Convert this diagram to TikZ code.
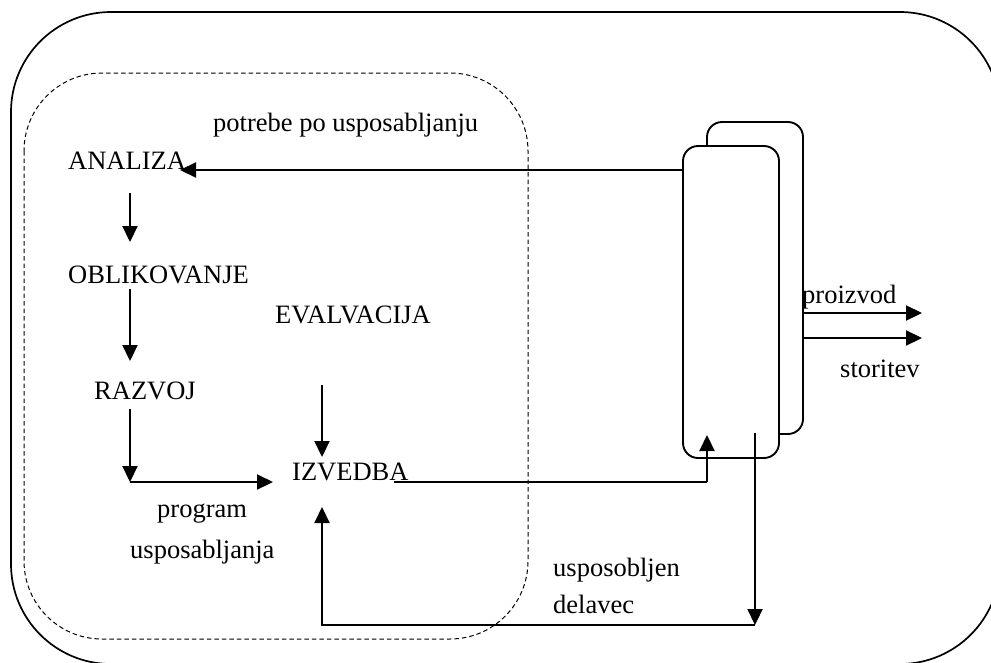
\documentclass[tikz,border=0pt]{standalone}
\usepackage{fontspec}
\setmainfont{Liberation Serif}
\usetikzlibrary{arrows.meta}
\begin{document}
\begin{tikzpicture}[x=1pt,y=-1pt,
  lbl/.style={anchor=base west,inner sep=0pt,font=\fontsize{26.5}{30}\selectfont},
  arr/.style={line width=2.2pt,-{Triangle[length=16pt,width=15pt]}},
  ln/.style={line width=2.2pt},
  proc/.style={draw,line width=1.9pt,rounded corners=15pt,fill=white,minimum width=96pt,minimum height=312pt,inner sep=0pt}]
\useasboundingbox (0,0) rectangle (991,662);
\begin{scope}
\clip (0,0) rectangle (991,662);
\draw[line width=1.7pt,rounded corners=100pt] (11,12) rectangle (1000,664);
\end{scope}
\draw[line width=1pt,dash pattern=on 4.5pt off 3pt,rounded corners=78pt] (24,73) rectangle (528,639);

% labels
\node[lbl] (pot) at (213,131) {potrebe po usposabljanju};
\node[lbl] (ana) at (68,169) {ANALIZA};
\node[lbl] (obl) at (68,283) {OBLIKOVANJE};
\node[lbl] (eva) at (275,323) {EVALVACIJA};
\node[lbl] (raz) at (94,399) {RAZVOJ};
\node[lbl] (izv) at (292,480) {IZVEDBA};
\node[lbl] (prog) at (157,517) {program};
\node[lbl] (usp) at (130,558) {usposabljanja};
\node[lbl] (proi) at (802,303) {proizvod};
\node[lbl] (stor) at (840,377) {storitev};
\node[lbl] (uspo) at (553,576) {usposobljen};
\node[lbl] (dela) at (553,613) {delavec};

% process boxes
\node[proc] (back) at (755,278) {};
\node[proc] (front) at (731,302) {};

% named points
\coordinate (anaIn) at (180,170);
\coordinate (corner) at (130,482);
\coordinate (izvOut) at (394,482);
\coordinate (boxIn) at (707,435);
\coordinate (turn1) at (707,482);
\coordinate (boxOut) at (755,433);
\coordinate (turn2) at (755,625);
\coordinate (turn3) at (322,625);
\coordinate (izvIn) at (322,507);
\coordinate (izvTop) at (322,457);
\coordinate (evaOut) at (322,385);
\coordinate (outA) at (922,313);
\coordinate (outB) at (922,338);

% connectors
\draw[arr] (front.west |- anaIn) -- (anaIn);
\draw[arr] (130,193) -- (130,242);
\draw[arr] (130,289) -- (130,361);
\draw[arr] (130,409) -- (corner);
\draw[arr] (corner) -- (273,482);
\draw[arr] (evaOut) -- (izvTop);
\draw[ln] (izvOut) -- (turn1);
\draw[arr] (turn1) -- (boxIn);
\draw[arr] (boxOut) -- (turn2);
\draw[arr] (turn2) -- (turn3) -- (izvIn);
\draw[arr] (back.east |- outA) -- (outA);
\draw[arr] (back.east |- outB) -- (outB);
\end{tikzpicture}
\end{document}
